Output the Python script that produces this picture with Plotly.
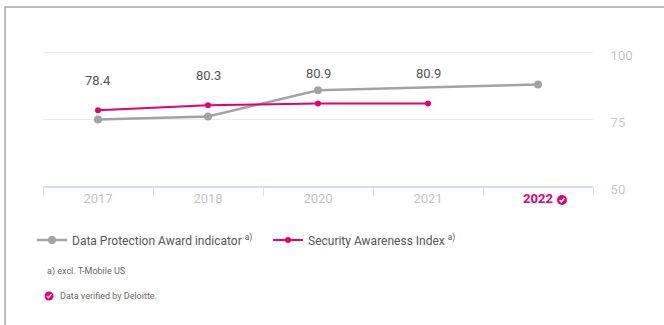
import plotly.graph_objects as go

# Data
years = ["2017", "2018", "2020", "2021", "2022"]
data_protection = [74.9, 76.1, 85.9, None, 88.1]
security_awareness = [78.4, 80.3, 80.9, 80.9, None]
y_ticks = [50, 75, 100]

MAGENTA = "#e20074"
GREY_LINE = "#a3a3a3"
FONT = "Roboto"

fig = go.Figure()

fig.add_trace(go.Scatter(
    x=years, y=data_protection, mode="lines+markers",
    name="Data Protection Award indicator <sup>a)</sup>",
    line=dict(color=GREY_LINE, width=2.5),
    marker=dict(color=GREY_LINE, size=8),
    connectgaps=True, cliponaxis=False,
))
fig.add_trace(go.Scatter(
    x=years, y=security_awareness, mode="lines+markers",
    name="Security Awareness Index <sup>a)</sup>",
    line=dict(color=MAGENTA, width=2),
    marker=dict(color=MAGENTA, size=6),
    cliponaxis=False,
))

# Value labels above the Security Awareness Index points
# (category axis: annotation x is the category's serial number)
for i, v in enumerate(security_awareness):
    if v is None:
        continue
    fig.add_annotation(x=i, y=v, xref="x", yref="y", text=f"{v:.1f}", showarrow=False,
                       yshift=30, font=dict(family=FONT, size=13, color="#555555"))

ticktext = [f"<span style='color:{MAGENTA}'><b>{y}</b></span>" if y == "2022" else y
            for y in years]

fig.update_xaxes(
    type="category", range=[-0.5, 4.5],
    tickvals=years, ticktext=ticktext,
    showline=True, linecolor="#d3dcf2", linewidth=1.5,
    ticks="outside", tickson="boundaries", ticklen=8, tickcolor="#d3dcf2",
    showgrid=False, zeroline=False,
    tickfont=dict(family=FONT, size=13, color="#c4c4c4"),
)
fig.update_yaxes(
    range=[50, 101], side="right", tickvals=y_ticks,
    showgrid=True, gridcolor="#ececec", gridwidth=1,
    zeroline=False, showline=False,
    ticks="outside", ticklen=14, tickcolor="rgba(0,0,0,0)",
    ticklabelshift=3,
    tickfont=dict(family=FONT, size=13, color="#c8c8c8"),
)

# paper-y helper: plot area spans pixel rows 50..186
def py(pix):
    return (186 - pix) / 136

shapes = [
    # outer frame
    dict(type="rect", xref="paper", yref="paper", x0=-0.069, x1=1.3, y0=py(340), y1=py(7),
         line=dict(color="#a8a8a8", width=1.5), layer="below"),
    # verified badge next to 2022
    dict(type="circle", xref="x", yref="paper", xsizemode="pixel", ysizemode="pixel",
         xanchor=4, yanchor=py(200), x0=19, x1=29, y0=-5, y1=5,
         fillcolor=MAGENTA, line=dict(width=0)),
    dict(type="path", xref="x", yref="paper", xsizemode="pixel", ysizemode="pixel",
         xanchor=4, yanchor=py(200), path="M21.5,0 L23.3,-2 L26.5,2",
         line=dict(color="white", width=1.5)),
    # verified badge in footnote
    dict(type="circle", xref="paper", yref="paper", xsizemode="pixel", ysizemode="pixel",
         xanchor=0.011, yanchor=py(296), x0=-4.5, x1=4.5, y0=-4.5, y1=4.5,
         fillcolor=MAGENTA, line=dict(width=0)),
    dict(type="path", xref="paper", yref="paper", xsizemode="pixel", ysizemode="pixel",
         xanchor=0.011, yanchor=py(296), path="M-2.2,0 L-0.6,-1.8 L2.3,1.8",
         line=dict(color="white", width=1.3)),
]

fig.add_annotation(xref="paper", yref="paper", x=0.0036, y=py(271), xanchor="left",
                   yanchor="middle", showarrow=False, text="a) excl. T-Mobile US",
                   font=dict(family=FONT, size=9, color="#6a6a6a"))
fig.add_annotation(xref="paper", yref="paper", x=0.027, y=py(296), xanchor="left",
                   yanchor="middle", showarrow=False, text="Data verified by Deloitte.",
                   font=dict(family=FONT, size=9, color="#6a6a6a"))

fig.update_layout(
    width=664, height=325,
    margin=dict(l=43, r=71, t=50, b=139),
    paper_bgcolor="white", plot_bgcolor="white",
    shapes=shapes,
    showlegend=True,
    legend=dict(orientation="h", x=-0.02, xanchor="left", y=py(240), yanchor="middle",
                entrywidth=191, entrywidthmode="pixels",
                font=dict(family=FONT, size=12, color="#555555"),
                bgcolor="rgba(0,0,0,0)"),
    font=dict(family=FONT),
)

fig.write_html("out.html")
